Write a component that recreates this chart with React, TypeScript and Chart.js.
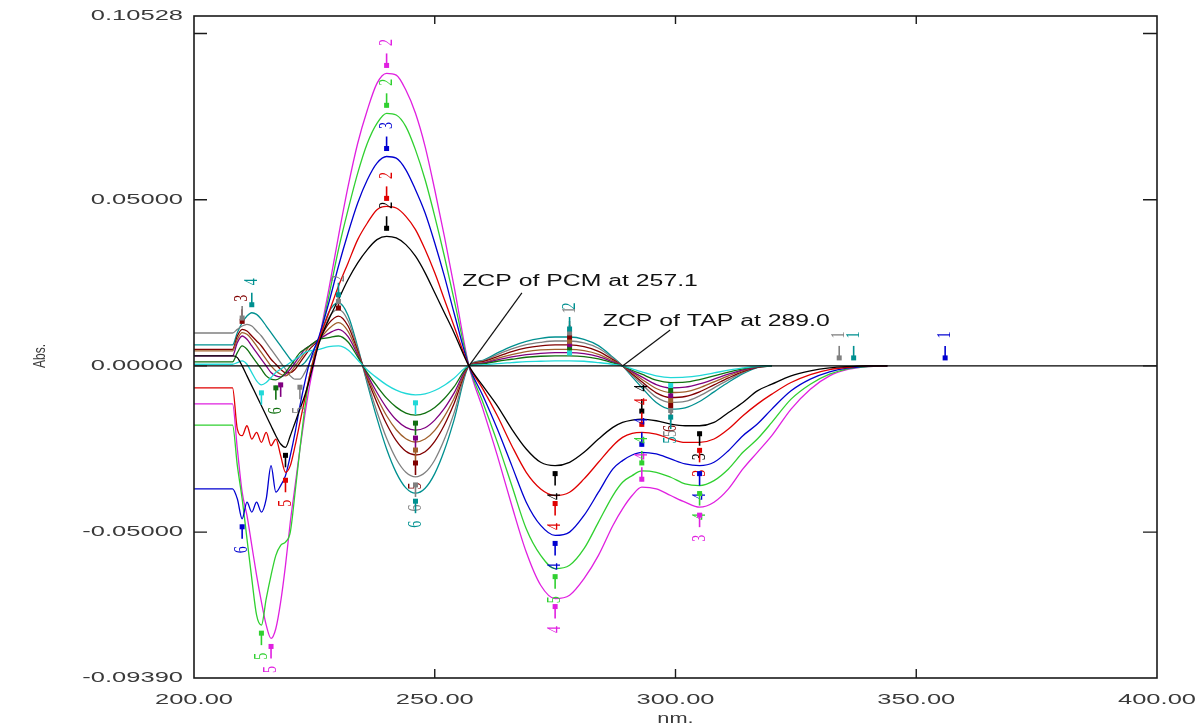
import React, { useEffect, useRef } from 'react';
import { Chart, registerables } from 'chart.js';

Chart.register(...registerables);

const W = 1199;
const H = 724;

// wavelength grid (nm)
const WAVELENGTHS = [
  200, 208, 209, 210, 211, 212, 213, 214, 215, 216, 217, 218, 219, 220, 221, 222, 223, 224,
  226, 228, 230, 232, 234, 236, 238, 240, 242, 244, 246, 248, 250, 252, 254, 257.1,
  260, 263, 266, 269, 272, 275, 278, 281, 284, 287,
  289, 291, 293, 296, 299, 302, 305, 308, 311, 314, 317, 320,
  324, 328, 332, 336, 340, 344,
];

const S_BLACK = [
  0.003, 0.003, 0.0025, 0, -0.003, -0.006, -0.009, -0.012, -0.015, -0.018, -0.021, -0.0235, -0.0245, -0.021, -0.017, -0.013, -0.009, -0.004,
  0.007, 0.014, 0.02, 0.026, 0.031, 0.035, 0.038, 0.039, 0.0385, 0.0365, 0.033, 0.028, 0.022, 0.016, 0.01, 0,
  -0.006, -0.012, -0.019, -0.025, -0.029, -0.03, -0.029, -0.026, -0.022, -0.0185,
  -0.017, -0.0163, -0.016, -0.0165, -0.0175, -0.018, -0.018, -0.017, -0.014, -0.011, -0.0075, -0.0055,
  -0.003, -0.0015, -0.0006, -0.0002, 0, 0,
];
const S_RED = [
  -0.0066, -0.0066, -0.019, -0.021, -0.018, -0.022, -0.02, -0.023, -0.02, -0.024, -0.022, -0.027, -0.032, -0.03, -0.024, -0.017, -0.01, -0.003,
  0.008, 0.016, 0.024, 0.031, 0.038, 0.043, 0.047, 0.048, 0.0475, 0.045, 0.041, 0.035, 0.028, 0.02, 0.012, 0,
  -0.007, -0.015, -0.024, -0.032, -0.037, -0.039, -0.038, -0.034, -0.029, -0.024,
  -0.0215, -0.0203, -0.02, -0.0205, -0.022, -0.023, -0.023, -0.022, -0.019, -0.015, -0.0115, -0.0085,
  -0.005, -0.0026, -0.0011, -0.0004, 0, 0,
];
const S_BLUE = [
  -0.037, -0.037, -0.04, -0.046, -0.041, -0.044, -0.041, -0.044, -0.04, -0.03, -0.038, -0.036, -0.033, -0.027, -0.02, -0.012, -0.005, 0.001,
  0.009, 0.019, 0.03, 0.04, 0.049, 0.056, 0.061, 0.063, 0.0625, 0.059, 0.053, 0.046, 0.037, 0.027, 0.016, 0,
  -0.009, -0.019, -0.03, -0.041, -0.048, -0.051, -0.05, -0.045, -0.038, -0.031,
  -0.0285, -0.0268, -0.026, -0.0265, -0.028, -0.0295, -0.03, -0.029, -0.0255, -0.021, -0.0175, -0.013,
  -0.0075, -0.004, -0.0018, -0.0006, -0.0001, 0,
];
const S_GREEN = [
  -0.0178, -0.0178, -0.03, -0.04, -0.052, -0.064, -0.075, -0.078, -0.07, -0.063, -0.057, -0.054, -0.053, -0.05, -0.038, -0.025, -0.013, -0.003,
  0.008, 0.021, 0.035, 0.047, 0.058, 0.067, 0.073, 0.076, 0.0755, 0.072, 0.065, 0.056, 0.045, 0.033, 0.02, 0,
  -0.011, -0.023, -0.036, -0.049, -0.057, -0.061, -0.06, -0.055, -0.047, -0.039,
  -0.035, -0.033, -0.0316, -0.032, -0.0335, -0.0355, -0.036, -0.0345, -0.031, -0.026, -0.022, -0.017,
  -0.01, -0.0055, -0.0025, -0.0008, -0.0002, 0,
];
const S_MAGENTA = [
  -0.0114, -0.0114, -0.025, -0.038, -0.045, -0.054, -0.063, -0.071, -0.078, -0.082, -0.079, -0.071, -0.06, -0.047, -0.036, -0.025, -0.015, -0.006,
  0.008, 0.023, 0.039, 0.054, 0.067, 0.077, 0.085, 0.088, 0.0875, 0.083, 0.076, 0.066, 0.053, 0.039, 0.024, 0,
  -0.013, -0.027, -0.042, -0.056, -0.066, -0.07, -0.069, -0.064, -0.057, -0.048,
  -0.043, -0.039, -0.0365, -0.037, -0.039, -0.041, -0.0425, -0.041, -0.037, -0.031, -0.026, -0.021,
  -0.013, -0.007, -0.003, -0.001, -0.0002, 0,
];
const S_CYAN = [
  0.0005, 0.0005, 0.001, 0.0015, 0.0005, -0.002, -0.0045, -0.0057, -0.005, -0.0035, -0.002, -0.001, 0, 0.001, 0.002, 0.003, 0.004, 0.0045,
  0.005, 0.0058, 0.006, 0.0048, 0.0018, -0.0012, -0.0036, -0.0057, -0.0073, -0.0083, -0.0087, -0.0084, -0.0074, -0.0058, -0.0037, 0,
  0.0003, 0.0007, 0.001, 0.0013, 0.0014, 0.0015, 0.0015, 0.0014, 0.001, 0.0005,
  0, -0.0009, -0.0018, -0.003, -0.0035, -0.0034, -0.0029, -0.0021, -0.0013, -0.0006, -0.0001, 0,
  null, null, null, null, null, null,
];
const S_DKGREEN = [
  0.0012, 0.0012, 0.004, 0.006, 0.005, 0.003, 0.001, -0.001, -0.003, -0.004, -0.0042, -0.0035, -0.002, 0, 0.002, 0.004, 0.005, 0.006,
  0.008, 0.0085, 0.009, 0.0072, 0.0027, -0.0021, -0.0061, -0.0097, -0.0124, -0.0142, -0.0148, -0.0142, -0.0125, -0.0098, -0.0063, 0,
  0.0006, 0.0014, 0.002, 0.0026, 0.0029, 0.003, 0.003, 0.0028, 0.0021, 0.0009,
  0, -0.0013, -0.0025, -0.0043, -0.005, -0.0049, -0.0041, -0.003, -0.0019, -0.0009, -0.0002, 0,
  null, null, null, null, null, null,
];
const S_PURPLE = [
  0.003, 0.003, 0.007, 0.009, 0.008, 0.006, 0.004, 0.002, 0, -0.002, -0.003, -0.0033, -0.0025, -0.001, 0.001, 0.003, 0.005, 0.006,
  0.008, 0.0098, 0.011, 0.0088, 0.0033, -0.0027, -0.008, -0.0126, -0.0162, -0.0185, -0.0193, -0.0186, -0.0163, -0.0128, -0.0082, 0,
  0.0008, 0.0018, 0.0027, 0.0034, 0.0038, 0.004, 0.004, 0.0037, 0.0028, 0.0012,
  0, -0.0017, -0.0033, -0.0056, -0.0066, -0.0064, -0.0054, -0.004, -0.0025, -0.0012, -0.0003, 0,
  null, null, null, null, null, null,
];
const S_BROWN = [
  0.0045, 0.0045, 0.008, 0.01, 0.0095, 0.008, 0.006, 0.004, 0.002, 0, -0.0015, -0.0025, -0.003, -0.002, 0, 0.002, 0.004, 0.006,
  0.008, 0.0112, 0.013, 0.0104, 0.0039, -0.0033, -0.0095, -0.015, -0.0192, -0.0219, -0.0229, -0.022, -0.0194, -0.0152, -0.0098, 0,
  0.001, 0.0023, 0.0034, 0.0043, 0.0048, 0.005, 0.005, 0.0046, 0.0035, 0.0015,
  0, -0.002, -0.004, -0.0068, -0.008, -0.0078, -0.0066, -0.0048, -0.003, -0.0014, -0.0003, 0,
  null, null, null, null, null, null,
];
const S_MAROON = [
  0.005, 0.005, 0.009, 0.011, 0.0105, 0.009, 0.0075, 0.006, 0.004, 0.002, 0.0005, -0.001, -0.002, -0.002, -0.001, 0.001, 0.003, 0.005,
  0.008, 0.0128, 0.015, 0.012, 0.0045, -0.0038, -0.0111, -0.0175, -0.0225, -0.0257, -0.0268, -0.0258, -0.0227, -0.0178, -0.0114, 0,
  0.0013, 0.0028, 0.0043, 0.0054, 0.006, 0.0063, 0.0063, 0.0058, 0.0044, 0.0019,
  0, -0.0024, -0.0048, -0.0081, -0.0095, -0.0092, -0.0078, -0.0057, -0.0036, -0.0017, -0.0004, 0,
  null, null, null, null, null, null,
];
const S_GRAY = [
  0.0099, 0.0099, 0.011, 0.012, 0.0125, 0.012, 0.0105, 0.009, 0.007, 0.005, 0.003, 0.001, -0.001, -0.003, -0.004, -0.004, -0.002, 0.001,
  0.007, 0.0145, 0.017, 0.0136, 0.0051, -0.0047, -0.0138, -0.0218, -0.028, -0.032, -0.0334, -0.0321, -0.0283, -0.0221, -0.0142, 0,
  0.0015, 0.0034, 0.0051, 0.0064, 0.0071, 0.0075, 0.0075, 0.0069, 0.0053, 0.0023,
  0, -0.0028, -0.0055, -0.0094, -0.011, -0.0107, -0.009, -0.0066, -0.0042, -0.002, -0.0004, 0,
  null, null, null, null, null, null,
];
const S_TEAL = [
  0.0063, 0.0063, 0.01, 0.013, 0.015, 0.016, 0.0155, 0.014, 0.012, 0.01, 0.008, 0.006, 0.004, 0.002, 0.0005, 0, 0.001, 0.003,
  0.008, 0.0162, 0.019, 0.0152, 0.0057, -0.0054, -0.0158, -0.025, -0.0321, -0.0367, -0.0383, -0.0368, -0.0324, -0.0254, -0.0163, 0,
  0.0017, 0.0039, 0.0059, 0.0074, 0.0083, 0.0087, 0.0087, 0.008, 0.0061, 0.0026,
  0, -0.0033, -0.0065, -0.011, -0.013, -0.0126, -0.0107, -0.0078, -0.0049, -0.0023, -0.0005, 0,
  null, null, null, null, null, null,
];

const SERIES = [S_BLACK, S_RED, S_BLUE, S_GREEN, S_MAGENTA, S_CYAN, S_DKGREEN, S_PURPLE, S_BROWN, S_MAROON, S_GRAY, S_TEAL];
const SERIES_COLORS = [
  '#000000', '#e00000', '#0000d0', '#30d030', '#e020e0',
  '#20d8d8', '#107010', '#800080', '#a0602c', '#800000', '#808080', '#009090',
];

const ZERO_X = [200, 400];
const ZERO_Y = [0, 0];

// peak-pick marks: [series index, wavelength, label, side (-1 above, 1 below)]
const PEAK_MARKS: [number, number, string, number][] = [
  [0, 240, '2', -1], [1, 240, '2', -1], [2, 240, '3', -1], [3, 240, '2', -1], [4, 240, '2', -1],
  [0, 275, '4', 1], [1, 275, '4', 1], [2, 275, '4', 1], [3, 275, '5', 1], [4, 275, '4', 1],
  [0, 293, '4', -1], [1, 293, '4', -1], [2, 293, '4', -1], [3, 293, '4', -1], [4, 293, '4', -1],
  [0, 305, '3', 1], [1, 305, '3', 1], [2, 305, '4', 1], [3, 305, '4', 1], [4, 305, '3', 1],
  [0, 219, '', 1], [1, 219, '5', 1], [2, 210, '6', 1], [3, 214, '5', 1], [4, 216, '5', 1],
  [9, 210, '3', -1], [11, 212, '4', -1], [10, 210, '', -1],
  [5, 214, '', 1], [6, 217, '6', 1], [7, 218, '', 1], [10, 222, '5', 1],
  [9, 230, '', -1], [10, 230, '2', -1], [11, 230, '', -1],
  [5, 246, '', 1], [6, 246, '', 1], [7, 246, '', 1], [8, 246, '', 1], [9, 246, '5', 1], [10, 246, '6', 1], [11, 246, '6', 1],
  [5, 278, '', -1], [6, 278, '', -1], [7, 278, '', -1], [8, 278, '', -1], [9, 278, '', -1], [10, 278, '1', -1], [11, 278, '2', -1],
  [5, 299, '', 1], [6, 299, '', 1], [7, 299, '', 1], [8, 299, '', 1], [9, 299, '6', 1], [10, 299, '5', 1], [11, 299, '5', 1],
];

const EXTRA_MARK_NM = [334, 337, 356];
const EXTRA_MARK_VAL = [0, 0, 0];
const EXTRA_MARK_SERIES = [10, 11, 2];
const EXTRA_MARK_LABEL = ['1', '1', '1'];

const NOTE_TEXTS = ['ZCP of PCM at 257.1', 'ZCP of TAP at 289.0'];
const NOTE_ANCHOR_NM = [257.1, 289.0];
const NOTE_LINE_END_NM = [268.1, 298.9];
const NOTE_LINE_END_VAL = [0.022, 0.0108];
const NOTE_TEXT_NM = [255.7, 284.9];
const NOTE_TEXT_VAL = [0.0253, 0.0133];

const X_TICKS = [200, 250, 300, 350, 400];
const X_TICK_LABELS = ['200.00', '250.00', '300.00', '350.00', '400.00'];
const X_TICK_MARKS = [250, 300, 350];
const Y_TICKS = [0.10528, 0.05, 0, -0.05, -0.0939];
const Y_TICK_LABELS = ['0.10528', '0.05000', '0.00000', '-0.05000', '-0.09390'];
const Y_TICK_MARKS = [0.1, 0.05, 0, -0.05];

const SANS = '"Liberation Sans", Arial, sans-serif';
const SERIF = '"Liberation Serif", "Times New Roman", serif';

function drawText(ctx: CanvasRenderingContext2D, text: string, x: number, y: number, font: string, color: string,
  align: CanvasTextAlign, sx: number, rot = 0, baseline: CanvasTextBaseline = 'middle') {
  ctx.save();
  ctx.translate(x, y);
  ctx.scale(sx, 1);
  if (rot) ctx.rotate(rot);
  ctx.font = font;
  ctx.fillStyle = color;
  ctx.textAlign = align;
  ctx.textBaseline = baseline;
  ctx.fillText(text, 0, 0);
  ctx.restore();
}

function drawMark(ctx: CanvasRenderingContext2D, px: number, py: number, dir: number, color: string, label: string) {
  ctx.save();
  ctx.strokeStyle = color;
  ctx.fillStyle = color;
  ctx.lineWidth = 1.6;
  ctx.beginPath();
  ctx.moveTo(px, py + dir * 6);
  ctx.lineTo(px, py + dir * 20);
  ctx.stroke();
  ctx.fillRect(px - 2.5, py + dir * 8 - 2.5, 5, 5);
  ctx.restore();
  if (label) drawText(ctx, label, px, py + dir * 31, '14px ' + SERIF, color, 'center', 1.4, -Math.PI / 2);
}

const overlayPlugin = {
  id: 'overlay',
  beforeDraw(chart: any) {
    const ctx = chart.ctx;
    ctx.save();
    ctx.fillStyle = '#ffffff';
    ctx.fillRect(0, 0, chart.width, chart.height);
    ctx.restore();
  },
  afterDatasetsDraw(chart: any) {
    const { ctx, chartArea: ca } = chart;
    const xs = chart.scales.x;
    const ys = chart.scales.y;

    // peak marks
    for (const [si, nm, label, dir] of PEAK_MARKS) {
      const idx = WAVELENGTHS.indexOf(nm);
      const v = SERIES[si][idx];
      if (idx < 0 || v === null || v === undefined) continue;
      drawMark(ctx, xs.getPixelForValue(nm), ys.getPixelForValue(v), dir, SERIES_COLORS[si], label);
    }
    EXTRA_MARK_NM.forEach((nm, i) => {
      drawMark(ctx, xs.getPixelForValue(nm), ys.getPixelForValue(EXTRA_MARK_VAL[i]), -1,
        SERIES_COLORS[EXTRA_MARK_SERIES[i]], EXTRA_MARK_LABEL[i]);
    });

    // annotations
    NOTE_TEXTS.forEach((t, i) => {
      ctx.save();
      ctx.strokeStyle = '#111';
      ctx.lineWidth = 1.2;
      ctx.beginPath();
      ctx.moveTo(xs.getPixelForValue(NOTE_ANCHOR_NM[i]), ys.getPixelForValue(0));
      ctx.lineTo(xs.getPixelForValue(NOTE_LINE_END_NM[i]), ys.getPixelForValue(NOTE_LINE_END_VAL[i]));
      ctx.stroke();
      ctx.restore();
      drawText(ctx, t, xs.getPixelForValue(NOTE_TEXT_NM[i]), ys.getPixelForValue(NOTE_TEXT_VAL[i]),
        '16px ' + SANS, '#111', 'left', 1.55);
    });

    // frame
    ctx.save();
    ctx.strokeStyle = '#1a1a1a';
    ctx.lineWidth = 1.6;
    ctx.strokeRect(ca.left, ca.top, ca.right - ca.left, ca.bottom - ca.top);
    ctx.lineWidth = 1.4;
    ctx.beginPath();
    for (const v of Y_TICK_MARKS) {
      const py = ys.getPixelForValue(v);
      ctx.moveTo(ca.left, py); ctx.lineTo(ca.left + 13, py);
      ctx.moveTo(ca.right, py); ctx.lineTo(ca.right - 14, py);
    }
    for (const v of X_TICK_MARKS) {
      const px = xs.getPixelForValue(v);
      ctx.moveTo(px, ca.top); ctx.lineTo(px, ca.top + 8);
      ctx.moveTo(px, ca.bottom); ctx.lineTo(px, ca.bottom - 9);
    }
    ctx.stroke();
    ctx.restore();

    // tick labels
    Y_TICKS.forEach((v, i) => {
      drawText(ctx, Y_TICK_LABELS[i], ca.left - 11, ys.getPixelForValue(v), '15px ' + SANS, '#3a3a3a', 'right', 1.7);
    });
    X_TICKS.forEach((v, i) => {
      drawText(ctx, X_TICK_LABELS[i], xs.getPixelForValue(v), ca.bottom + 22, '15px ' + SANS, '#3a3a3a', 'center', 1.7);
    });

    // axis titles
    drawText(ctx, 'Abs.', 40, 356, '12px ' + SANS, '#3a3a3a', 'center', 1.4, -Math.PI / 2);
    drawText(ctx, 'nm.', (ca.left + ca.right) / 2, 723, '15px ' + SANS, '#3a3a3a', 'center', 1.45, 0, 'alphabetic');
  },
};

export default function App() {
  const ref = useRef<HTMLCanvasElement>(null);
  useEffect(() => {
    if (!ref.current) return;
    const datasets: any[] = [
      {
        label: 'zero',
        data: ZERO_X.map((x, i) => ({ x, y: ZERO_Y[i] })),
        borderColor: '#000000',
        borderWidth: 1.2,
        pointRadius: 0,
        order: 0,
      },
      ...SERIES.map((s, si) => ({
        label: 'S' + (si + 1),
        data: WAVELENGTHS.map((x, i) => ({ x, y: s[i] })),
        borderColor: SERIES_COLORS[si],
        borderWidth: 1.3,
        pointRadius: 0,
        cubicInterpolationMode: 'monotone',
        spanGaps: false,
        order: 1,
      })),
    ];
    const chart = new Chart(ref.current, {
      type: 'line',
      data: { datasets },
      options: {
        animation: false,
        responsive: false,
        events: [],
        layout: { padding: { left: 194, right: 42, top: 16, bottom: 46 } },
        plugins: { legend: { display: false }, tooltip: { enabled: false } },
        scales: {
          x: { type: 'linear', min: 200, max: 400, display: false },
          y: { type: 'linear', min: -0.0939, max: 0.10528, display: false },
        },
      },
      plugins: [overlayPlugin],
    } as any);
    return () => chart.destroy();
  }, []);
  return (
    <div style={{ position: 'fixed', left: 0, top: 0, width: W, height: H, background: '#fff' }}>
      <canvas ref={ref} width={W} height={H} style={{ display: 'block', width: W, height: H }} />
    </div>
  );
}
